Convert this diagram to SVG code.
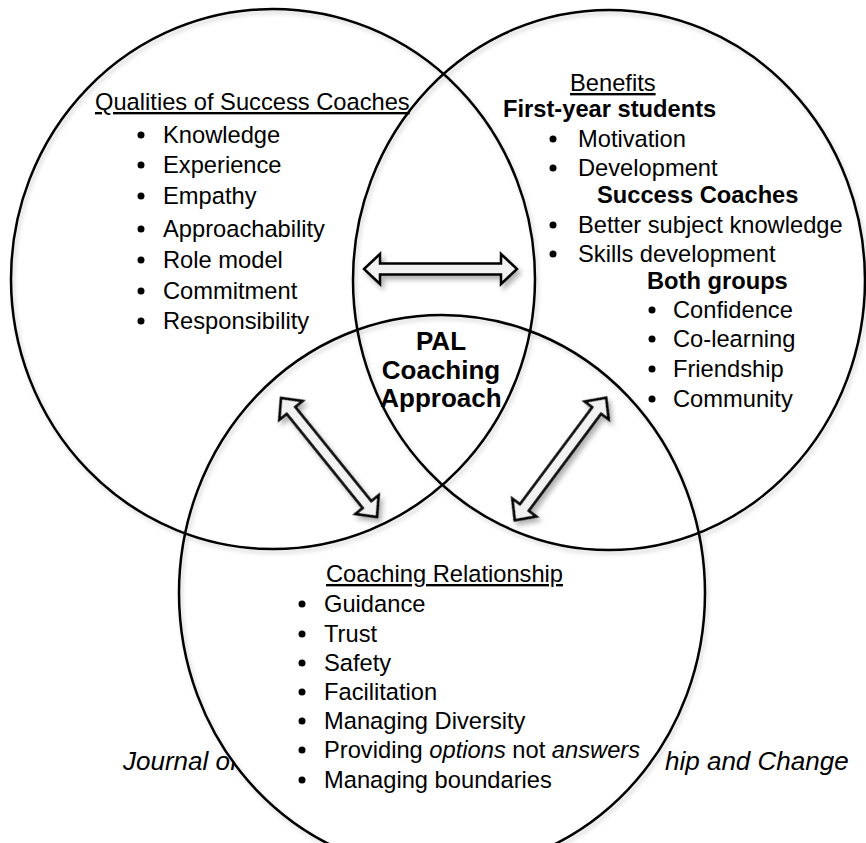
<svg xmlns="http://www.w3.org/2000/svg" width="866" height="843" viewBox="0 0 866 843">
<defs>
<filter id="sh" x="-10%" y="-10%" width="130%" height="130%">
<feDropShadow dx="3" dy="4" stdDeviation="2.5" flood-color="#000" flood-opacity="0.3"/>
</filter>
<filter id="csh" x="-10%" y="-10%" width="130%" height="130%">
<feDropShadow dx="2" dy="3" stdDeviation="2" flood-color="#000" flood-opacity="0.18"/>
</filter>
<path id="darrow" d="M-76.5,0 L-60.5,-15 L-60.5,-5.5 L60.5,-5.5 L60.5,-15 L76.5,0 L60.5,15 L60.5,5.5 L-60.5,5.5 L-60.5,15 Z"/>
</defs>
<style>
text{font-family:"Liberation Sans",Arial,sans-serif;font-size:23.7px;fill:#000}
.b{font-weight:bold}
.u{text-decoration:underline}
.i{font-style:italic}
.j{font-style:italic;font-size:26px}
.big{font-weight:bold;font-size:26px}
.ring{fill:none;stroke:#000;stroke-width:2.5}
.arr{fill:#f2f2f2;stroke:#000;stroke-width:2.5;stroke-linejoin:miter}
</style>
<rect width="866" height="843" fill="#fff"/>
<g id="journal">
<text class="j" x="123" y="770">Journal of</text>
<text class="j" x="665" y="770">hip and Change</text>
</g>
<ellipse cx="442" cy="593" rx="263" ry="278" fill="#fff"/>
<g id="circles" filter="url(#csh)">
<ellipse id="c-left" class="ring" cx="273" cy="279" rx="262" ry="270"/>
<ellipse id="c-right" class="ring" cx="609" cy="280" rx="256" ry="270"/>
<ellipse id="c-bottom" class="ring" cx="442" cy="593" rx="263" ry="278"/>
</g>
<g id="qualities">
<text class="u" x="95" y="110">Qualities of Success Coaches</text>
<circle cx="141" cy="135" r="3.5"/><text x="163" y="143">Knowledge</text>
<circle cx="141" cy="165" r="3.5"/><text x="163" y="173">Experience</text>
<circle cx="141" cy="196" r="3.5"/><text x="163" y="204">Empathy</text>
<circle cx="141" cy="229" r="3.5"/><text x="163" y="237">Approachability</text>
<circle cx="141" cy="260" r="3.5"/><text x="163" y="268">Role model</text>
<circle cx="141" cy="291" r="3.5"/><text x="163" y="299">Commitment</text>
<circle cx="141" cy="321" r="3.5"/><text x="163" y="329">Responsibility</text>
</g>
<g id="benefits">
<text class="u" x="570" y="91">Benefits</text>
<text class="b" x="503" y="117">First-year students</text>
<circle cx="553" cy="139" r="3.5"/><text x="578" y="147">Motivation</text>
<circle cx="553" cy="168" r="3.5"/><text x="578" y="176">Development</text>
<text class="b" x="597" y="203">Success Coaches</text>
<circle cx="553" cy="225" r="3.5"/><text x="578" y="233">Better subject knowledge</text>
<circle cx="553" cy="254" r="3.5"/><text x="578" y="262">Skills development</text>
<text class="b" x="647" y="289">Both groups</text>
<circle cx="652" cy="310" r="3.5"/><text x="673" y="318">Confidence</text>
<circle cx="652" cy="339" r="3.5"/><text x="673" y="347">Co-learning</text>
<circle cx="652" cy="369" r="3.5"/><text x="673" y="377">Friendship</text>
<circle cx="652" cy="399" r="3.5"/><text x="673" y="407">Community</text>
</g>
<g id="relationship">
<text class="u" x="326" y="582">Coaching Relationship</text>
<circle cx="302" cy="604" r="3.5"/><text x="324" y="612">Guidance</text>
<circle cx="302" cy="634" r="3.5"/><text x="324" y="642">Trust</text>
<circle cx="302" cy="663" r="3.5"/><text x="324" y="671">Safety</text>
<circle cx="302" cy="692" r="3.5"/><text x="324" y="700">Facilitation</text>
<circle cx="302" cy="721" r="3.5"/><text x="324" y="729">Managing Diversity</text>
<circle cx="302" cy="750" r="3.5"/><text x="324" y="758">Providing <tspan class="i">options</tspan> not <tspan class="i">answers</tspan></text>
<circle cx="302" cy="780" r="3.5"/><text x="324" y="788">Managing boundaries</text>
</g>
<g id="center">
<text class="big" x="441" y="350" text-anchor="middle">PAL</text>
<text class="big" x="441" y="379" text-anchor="middle">Coaching</text>
<text class="big" x="441" y="407" text-anchor="middle">Approach</text>
</g>
<g id="connectors" filter="url(#sh)">
<use href="#darrow" class="arr" transform="translate(440.5,269)"/>
<use href="#darrow" class="arr" transform="translate(329,457.5) rotate(51.1)"/>
<use href="#darrow" class="arr" transform="translate(560.5,459) rotate(-53.3)"/>
</g>
</svg>
